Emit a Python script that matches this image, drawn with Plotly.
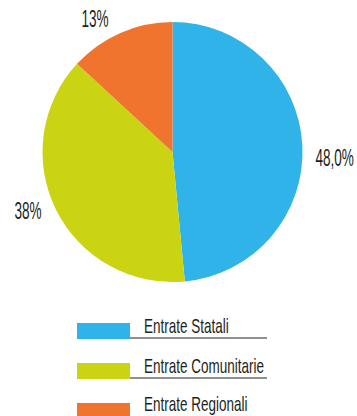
import plotly.graph_objects as go

# Revenue shares by source
categories = ["Entrate Statali", "Entrate Comunitarie", "Entrate Regionali"]
shares = [48.0, 38, 13]
share_labels = ["48,0%", "38%", "13%"]
colors = ["#2fb3e8", "#cbd412", "#f0742e"]

W, H = 357, 416
FONT = "Liberation Sans, Arial, sans-serif"
TEXT = "#231f20"


def px(x, y):
    """Pixel position -> paper coordinates."""
    return x / W, 1 - y / H


fig = go.Figure()
fig.add_trace(go.Pie(
    labels=categories,
    values=shares,
    sort=False,
    direction="clockwise",
    rotation=0,
    marker=dict(colors=colors, line=dict(width=0)),
    textinfo="none",
    hoverinfo="label+percent",
    showlegend=False,
    domain=dict(x=[42 / W, 303 / W], y=[1 - 282 / H, 1 - 22 / H]),
))

annotations = []
# slice value labels
label_pos = [(334, 158), (28, 211), (95, 19)]
for (x, y), txt in zip(label_pos, share_labels):
    xp, yp = px(x, y)
    annotations.append(dict(x=xp, y=yp, xref="paper", yref="paper", text=txt,
                            showarrow=False, xanchor="center", yanchor="middle",
                            font=dict(family=FONT, size=23, color=TEXT)))

# custom legend: swatch, underline, label
shapes = []
rows = [331, 371, 411]
text_rows = [326, 366, 404]
for cat, col, yc, yt in zip(categories, colors, rows, text_rows):
    x0, y0 = px(77, yc - 8)
    x1, y1 = px(130, yc + 8)
    shapes.append(dict(type="rect", xref="paper", yref="paper",
                       x0=x0, x1=x1, y0=y1, y1=y0, fillcolor=col,
                       line=dict(width=0), layer="above"))
    lx0, ly = px(130, yc + 7)
    lx1, _ = px(267, yc + 7)
    shapes.append(dict(type="line", xref="paper", yref="paper",
                       x0=lx0, x1=lx1, y0=ly, y1=ly,
                       line=dict(color=TEXT, width=1)))
    tx, ty = px(142, yt)
    annotations.append(dict(x=tx, y=ty, xref="paper", yref="paper", text=cat,
                            showarrow=False, xanchor="left", yanchor="middle",
                            font=dict(family=FONT, size=20, color=TEXT)))

fig.update_layout(
    width=W, height=H,
    margin=dict(l=0, r=0, t=0, b=0),
    paper_bgcolor="white",
    plot_bgcolor="white",
    shapes=shapes,
    annotations=annotations,
)

# Narrow the annotation text horizontally (condensed lettering):
# value labels shrink about their centre, legend labels about their left edge.
condense_js = """
document.querySelectorAll('g.annotation').forEach(function (g) {
  var idx = parseInt(g.getAttribute('data-index'), 10);
  var t = g.querySelector('text.annotation-text');
  if (!t) return;
  t.style.transformBox = 'fill-box';
  if (idx < 3) {
    t.style.transformOrigin = 'center center';
    t.style.transform = 'scaleX(0.59)';
  } else {
    t.style.transformOrigin = 'left center';
    t.style.transform = 'scaleX(0.675)';
  }
});
"""

fig.write_html("out.html", post_script=condense_js)
